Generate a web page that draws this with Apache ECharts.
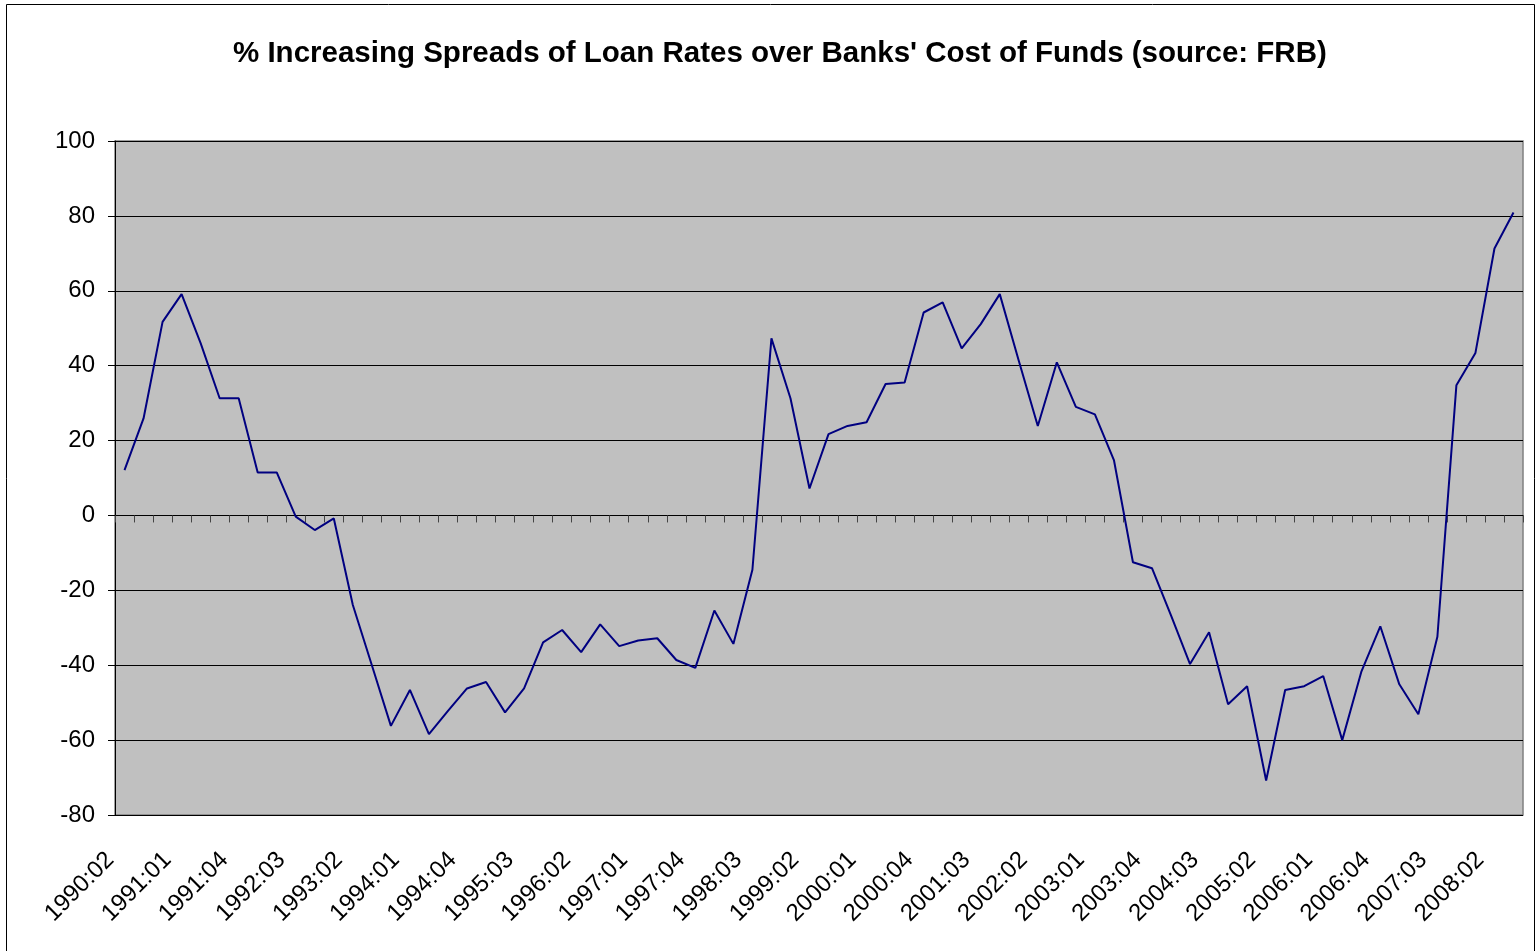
<!DOCTYPE html>
<html>
<head>
<meta charset="utf-8">
<script src="https://cdn.jsdelivr.net/npm/echarts@6/dist/echarts.min.js"></script>
<style>
  html, body { margin: 0; padding: 0; background: #fff; }
  #chart { width: 1536px; height: 951px; }
</style>
</head>
<body>
<div id="chart"></div>
<script>
// quarters, 1990:02 - 2008:03
var quarters = [
  '1990:02', '1990:03', '1990:04',
  '1991:01', '1991:02', '1991:03', '1991:04',
  '1992:01', '1992:02', '1992:03', '1992:04',
  '1993:01', '1993:02', '1993:03', '1993:04',
  '1994:01', '1994:02', '1994:03', '1994:04',
  '1995:01', '1995:02', '1995:03', '1995:04',
  '1996:01', '1996:02', '1996:03', '1996:04',
  '1997:01', '1997:02', '1997:03', '1997:04',
  '1998:01', '1998:02', '1998:03', '1998:04',
  '1999:01', '1999:02', '1999:03', '1999:04',
  '2000:01', '2000:02', '2000:03', '2000:04',
  '2001:01', '2001:02', '2001:03', '2001:04',
  '2002:01', '2002:02', '2002:03', '2002:04',
  '2003:01', '2003:02', '2003:03', '2003:04',
  '2004:01', '2004:02', '2004:03', '2004:04',
  '2005:01', '2005:02', '2005:03', '2005:04',
  '2006:01', '2006:02', '2006:03', '2006:04',
  '2007:01', '2007:02', '2007:03', '2007:04',
  '2008:01', '2008:02', '2008:03'
];

// % increasing spread
var spread = [
  12.1, 25.9, 51.7,
  59.1, 46.0, 31.3, 31.3,
  11.5, 11.5, -0.3, -3.9,
  -0.8, -23.9, -40.0, -56.2,
  -46.6, -58.4, -52.2, -46.2,
  -44.5, -52.6, -46.2, -33.9,
  -30.6, -36.5, -29.1, -34.9,
  -33.4, -32.8, -38.6, -40.7,
  -25.4, -34.3, -14.5, 47.3,
  31.3, 7.2, 21.7, 23.9,
  24.9, 35.1, 35.5, 54.2,
  56.9, 44.6, 51.1, 59.1,
  41.3, 23.9, 40.9, 29.0,
  27.0, 14.8, -12.5, -14.1,
  -26.7, -39.7, -31.2, -50.4,
  -45.6, -70.8, -46.6, -45.6,
  -42.9, -60.0, -41.8, -29.6,
  -45.1, -53.1, -32.4, 34.8,
  43.4, 71.3, 80.9
];

var yTicks = { min: -80, max: 100, step: 20 };

var font = '"Liberation Sans", Arial, sans-serif';
var chart = echarts.init(document.getElementById('chart'));

var option = {
  backgroundColor: '#fff',
  animation: false,
  title: {
    text: "% Increasing Spreads of Loan Rates over Banks' Cost of Funds (source: FRB)",
    left: 228,
    top: 34,
    textStyle: { color: '#000', fontWeight: 'bold', fontSize: 29.5, fontFamily: font }
  },
  graphic: [{
    type: 'rect',
    shape: { x: 6.5, y: 4.5, width: 1528, height: 1000 },
    style: { fill: 'none', stroke: '#000', lineWidth: 1 },
    silent: true,
    z: -1
  }],
  grid: {
    left: 115,
    right: 13,
    top: 141,
    bottom: 136,
    show: true,
    backgroundColor: '#c0c0c0',
    borderColor: '#808080',
    borderWidth: 1.5
  },
  xAxis: [
    {
      // labels along the bottom
      type: 'category',
      data: quarters,
      position: 'bottom',
      boundaryGap: true,
      axisLine: { show: false, onZero: false },
      axisTick: { show: false },
      splitLine: { show: false },
      axisLabel: {
        interval: 2,
        rotate: 45,
        margin: 27,
        padding: [0, 20, 0, 0],
        color: '#000',
        fontSize: 24,
        fontFamily: font
      }
    },
    {
      // the category line sits on zero, ticks hang below it
      type: 'category',
      data: quarters,
      position: 'top',
      boundaryGap: true,
      axisLine: { show: true, onZero: true, lineStyle: { color: '#000', width: 1 } },
      axisTick: { show: true, inside: true, interval: 0, length: 7, lineStyle: { color: '#444' } },
      axisLabel: { show: false },
      splitLine: { show: false }
    }
  ],
  yAxis: {
    type: 'value',
    min: yTicks.min,
    max: yTicks.max,
    interval: yTicks.step,
    axisLine: { show: true, lineStyle: { color: '#000', width: 1 } },
    axisTick: { show: true, length: 7, lineStyle: { color: '#000' } },
    axisLabel: { color: '#000', fontSize: 24, fontFamily: font, margin: 20 },
    splitLine: { show: true, lineStyle: { color: '#000', width: 1 } }
  },
  series: [{
    name: 'spread',
    type: 'line',
    xAxisIndex: 0,
    data: spread,
    symbol: 'none',
    smooth: false,
    lineStyle: { color: '#000080', width: 2 },
    z: 5
  }]
};

chart.setOption(option);
</script>
</body>
</html>
